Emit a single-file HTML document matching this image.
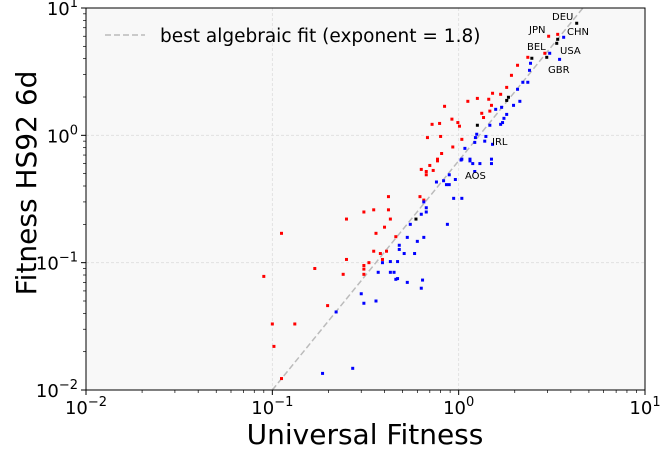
<!DOCTYPE html>
<html><head><meta charset="utf-8"><style>
body{margin:0;background:#fff}
svg{display:block;font-family:"DejaVu Sans","Liberation Sans",sans-serif}
</style></head><body>
<svg id="chart" width="661" height="450" viewBox="0 0 661 450" xmlns="http://www.w3.org/2000/svg">
<rect x="86" y="8" width="559" height="382" fill="#f8f8f8"/>
<g id="grid"></g>
<g id="fit"></g>
<g id="points"></g>
<g id="labels" font-size="10" fill="#000">
<text x="552" y="20">DEU</text>
<text x="529" y="33">JPN</text>
<text x="567" y="35">CHN</text>
<text x="527" y="50">BEL</text>
<text x="560" y="54">USA</text>
<text x="548" y="73">GBR</text>
<text x="492" y="145">IRL</text>
<text x="465" y="179">AOS</text>
</g>
<rect x="86" y="8" width="559" height="382" fill="none" stroke="#000" stroke-width="1"/>
<g id="axes"></g>
<g>
<line x1="105" y1="35" x2="145" y2="35" stroke="#bbb" stroke-width="1.5" stroke-dasharray="6,3"/>
<text x="160" y="42" font-size="18.5">best algebraic fit (exponent = 1.8)</text>
</g>
<text x="365" y="444" font-size="28" text-anchor="middle">Universal Fitness</text>
<text transform="translate(36,183) rotate(-90)" font-size="28" text-anchor="middle">Fitness HS92 6d</text>
</svg>
<script>
const xTickExps=[-2,-1,0,1];
const yTickExps=[-2,-1,0,1];
const fitExponent=1.8;
const fitCoef=0.631;
const redX=[0.84,1.12,1.26,1.52,1.45,1.50,1.33,1.47,1.36,0.72,0.79,0.92,0.99,1.01,0.68,0.80,1.04,0.93,0.81,0.77,0.77,0.70,0.63,0.67,0.73,0.67,0.42,0.62,0.65,0.31,0.35,0.42,0.25,0.43,0.40,0.36,0.46,0.112,0.35,0.38,0.41,0.39,0.33,0.31,0.31,0.31,0.25,0.169,0.24,0.090,0.198,0.100,0.132,0.102,0.112,3.40,3.04,2.90,2.35,2.07,1.92,1.81,1.68];
const redY=[1.69,1.85,1.95,2.14,1.92,1.72,1.49,1.55,1.38,1.22,1.24,1.34,1.26,1.18,0.96,0.98,0.93,0.81,0.72,0.65,0.63,0.58,0.54,0.52,0.53,0.49,0.33,0.33,0.31,0.25,0.26,0.26,0.22,0.22,0.19,0.17,0.16,0.17,0.123,0.118,0.123,0.106,0.100,0.095,0.089,0.081,0.106,0.090,0.081,0.078,0.046,0.033,0.033,0.022,0.0123,6.21,6.0,4.41,4.10,3.55,2.96,2.38,2.10];
const blueX=[1.58,1.47,1.68,1.25,1.23,1.40,1.22,1.38,1.52,1.08,1.04,1.03,1.15,1.15,1.19,1.30,1.50,1.50,1.22,0.89,0.96,0.76,0.83,0.86,0.89,0.94,1.04,0.65,0.67,0.67,0.63,0.55,0.87,0.53,0.65,0.60,0.48,0.48,0.51,0.58,0.39,0.43,0.47,0.37,0.43,0.45,0.46,0.47,0.53,0.64,0.63,0.30,0.31,0.36,0.22,0.186,0.27,3.66,3.08,3.48,2.43,2.40,2.21,2.35,2.07,2.13,1.97,1.70,1.81,1.75,1.72];
const blueY=[1.60,1.20,1.22,1.02,0.96,0.98,0.88,0.90,0.85,0.79,0.65,0.64,0.65,0.63,0.60,0.60,0.65,0.60,0.52,0.49,0.45,0.43,0.44,0.41,0.41,0.32,0.32,0.30,0.27,0.25,0.24,0.20,0.20,0.158,0.158,0.147,0.137,0.127,0.118,0.118,0.100,0.102,0.102,0.084,0.084,0.084,0.074,0.075,0.070,0.073,0.063,0.057,0.048,0.050,0.041,0.0135,0.0148,5.89,4.41,3.95,3.68,3.24,2.61,2.61,2.30,1.85,1.72,1.66,1.46,1.36,1.26];
const blackX=[4.30,3.40,3.36,2.47,2.97,1.85,1.81,1.26,0.59];
const blackY=[7.59,5.68,5.28,4.03,4.10,1.99,1.88,1.20,0.22];

const X0=86,X1=645,Y0=390,Y1=8;
function xs(v){return X0+(Math.log10(v)+2)/3*(X1-X0);}
function ys(v){return Y0-(Math.log10(v)+2)/3*(Y0-Y1);}
const NS="http://www.w3.org/2000/svg";
function mk(tag,parent,attrs){const e=document.createElementNS(NS,tag);for(const k in attrs)e.setAttribute(k,attrs[k]);parent.appendChild(e);return e;}
const grid=document.getElementById('grid'),axes=document.getElementById('axes');
xTickExps.forEach(p=>{
  const x=xs(Math.pow(10,p));
  if(p>-2&&p<1){const g=mk('line',grid,{x1:x,x2:x,y1:Y1,y2:Y0,stroke:'#ddd','stroke-dasharray':'3,2','stroke-width':0.8});
  
  }
  mk('line',axes,{x1:x,x2:x,y1:Y0,y2:Y0+5,stroke:'#000'});
  const t=mk('text',axes,{x:x,y:Y0+24,'font-size':18,'text-anchor':'middle'});
  
  
  t.innerHTML='10<tspan dy="-8" font-size="13">'+(p<0?'\u2212'+(-p):p)+'</tspan>';
  if(p<1)for(let m=2;m<10;m++){const xm=xs(m*Math.pow(10,p));mk('line',axes,{x1:xm,x2:xm,y1:Y0,y2:Y0+3,stroke:'#000','stroke-width':0.7});}
});
yTickExps.forEach(p=>{
  const y=ys(Math.pow(10,p));
  if(p>-2&&p<1){const g=mk('line',grid,{x1:X0,x2:X1,y1:y,y2:y,stroke:'#ddd','stroke-dasharray':'3,2','stroke-width':0.8});
  
  }
  mk('line',axes,{x1:X0-5,x2:X0,y1:y,y2:y,stroke:'#000'});
  const t=mk('text',axes,{x:X0-8,y:y+7,'font-size':18,'text-anchor':'end'});
  
  
  t.innerHTML='10<tspan dy="-8" font-size="13">'+(p<0?'\u2212'+(-p):p)+'</tspan>';
  if(p<1)for(let m=2;m<10;m++){const ym=ys(m*Math.pow(10,p));mk('line',axes,{x1:X0-3,x2:X0,y1:ym,y2:ym,stroke:'#000','stroke-width':0.7});}
});
const fit=document.getElementById('fit');
const xa=Math.pow(0.01/fitCoef,1/fitExponent), xb=Math.pow(10/fitCoef,1/fitExponent);
const fl=mk('line',fit,{x1:xs(xa),y1:ys(fitCoef*Math.pow(xa,fitExponent)),x2:xs(Math.min(xb,10)),y2:ys(fitCoef*Math.pow(Math.min(xb,10),fitExponent)),stroke:'#bbb','stroke-width':1.5,'stroke-dasharray':'6,3'});


const pts=document.getElementById('points');
function draw(X,Y,color,name){for(let i=0;i<X.length;i++){
  const r=mk('rect',pts,{x:xs(X[i])-1.5,y:ys(Y[i])-1.5,width:3,height:3,fill:color});
  
  
}}
draw(redX,redY,'#f00','red-point');
draw(blueX,blueY,'#00f','blue-point');
draw(blackX,blackY,'#000','black-point');
</script>
</body></html>
